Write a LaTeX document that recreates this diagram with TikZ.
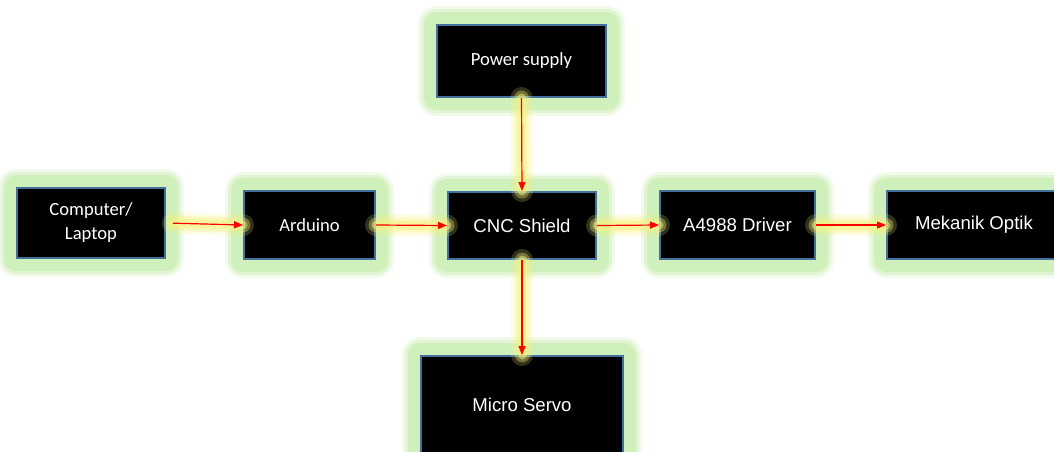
\documentclass[tikz,border=0pt]{standalone}
\usepackage{fontspec}
\setsansfont{Liberation Sans}
\newfontfamily\calibri{Carlito}
\usetikzlibrary{arrows.meta,calc,backgrounds}
\definecolor{glowgreen}{HTML}{C8EDB0}
\definecolor{glowyellow}{HTML}{F6F27E}
\definecolor{boxedge}{HTML}{41719C}
\tikzset{pin/.style={draw=red, line width=1.2pt, -{Triangle[length=9pt,width=7pt]}},
  blk/.style={draw=boxedge, line width=2pt, fill=black, text=white, align=center, inner sep=0pt,
    font=\sffamily\fontsize{18.6}{22}\selectfont},
  blkc/.style={blk, font=\calibri\fontsize{18.6}{24}\selectfont}}
\newcommand{\greenglow}[1]{\foreach \w/\o in {18/0.25,15/0.4,12/0.7}
  \fill[glowgreen, opacity=\o, rounded corners=\w pt] ($(#1.north west)+(-\w pt,\w pt)$) rectangle ($(#1.south east)+(\w pt,-\w pt)$);}
\newcommand{\link}[3][]{\foreach \w/\o in {22/0.2,15/0.35,9/0.5}
  \draw[glowyellow, opacity=\o, line width=\w pt, line cap=round, #1] (#2) -- (#3);
  \draw[pin, #1] (#2) -- (#3);}

\begin{document}
\begin{tikzpicture}[x=1pt, y=-1pt]
  \useasboundingbox (0,0) rectangle (1054,451);
  % blocks
  \node[blkc, minimum width=148pt, minimum height=70pt] (comp) at (91,223) {Computer/\\Laptop};
  \node[blkc, minimum width=131pt, minimum height=68pt] (ard) at (309.5,225) {Arduino};
  \node[blk, minimum width=148pt, minimum height=67pt] (cnc) at (522,225.5) {CNC Shield};
  \node[blkc, minimum width=169pt, minimum height=72pt] (pwr) at (521.5,61) {Power supply};
  \node[blk, minimum width=155pt, minimum height=68pt] (drv) at (737.5,225) {A4988 Driver};
  \node[blk, minimum width=174pt, minimum height=68pt] (opt) at (974,225) {Mekanik Optik};
  \node[blk, minimum width=202pt, minimum height=98pt] (servo) at (522,405) {Micro Servo};
  % glow behind the blocks
  \begin{scope}[on background layer]
    \foreach \n in {comp,ard,cnc,pwr,drv,opt,servo} {\greenglow{\n}}
  \end{scope}
  % connections
  \link[shorten <=7pt]{comp.east}{ard.west}
  \link{ard.east}{cnc.west}
  \link{cnc.east}{drv.west}
  \link{drv.east}{opt.west}
  \link{pwr.south}{cnc.north}
  \link{cnc.south}{servo.north}
\end{tikzpicture}
\end{document}
